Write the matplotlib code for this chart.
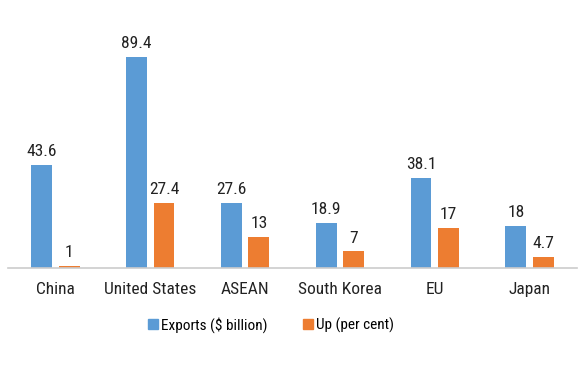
import numpy as np
import matplotlib.pyplot as plt
from matplotlib.patches import Patch
from matplotlib import font_manager

categories = ['China', 'United States', 'ASEAN', 'South Korea', 'EU', 'Japan']
exports = [43.6, 89.4, 27.6, 18.9, 38.1, 18]
up = [1, 27.4, 13, 7, 17, 4.7]
export_labels = ['43.6', '89.4', '27.6', '18.9', '38.1', '18']
up_labels = ['1', '27.4', '13', '7', '17', '4.7']

blue = '#5B9BD5'
orange = '#ED7D31'

# pick a condensed face if one is there
have = {f.name for f in font_manager.fontManager.ttflist}
narrow = [n for n in ['Liberation Sans Narrow', 'Roboto Condensed', 'Open Sans Condensed',
                      'DejaVu Sans Condensed', 'Liberation Sans'] if n in have]
plt.rcParams['font.family'] = narrow[:1] + ['DejaVu Sans']
fs = 12.5
fs_leg = 11

fig = plt.figure(figsize=(5.85, 3.76), dpi=100)
ax = fig.add_axes([8/585, 108/376, 569/585, 236/376])

x = np.arange(len(categories))
w = 0.22
b1 = ax.bar(x - 0.145, exports, w, color=blue)
b2 = ax.bar(x + 0.145, up, w, color=orange)

for rect, lab in zip(b1, export_labels):
    ax.text(rect.get_x() + rect.get_width()/2, rect.get_height() + 2.5, lab,
            ha='center', va='bottom', fontsize=fs, color='#222222')
for rect, lab in zip(b2, up_labels):
    ax.text(rect.get_x() + rect.get_width()/2, rect.get_height() + 2.5, lab,
            ha='center', va='bottom', fontsize=fs, color='#222222')

ax.set_xlim(-0.5, len(categories) - 0.5)
ax.set_ylim(0, 100)
ax.set_xticks(x)
ax.set_xticklabels(categories, fontsize=fs, color='#222222')
ax.tick_params(axis='x', length=0, pad=10)
ax.set_yticks([])
for s in ['top', 'right', 'left']:
    ax.spines[s].set_visible(False)
ax.spines['bottom'].set_color('#cccccc')
ax.spines['bottom'].set_linewidth(1.2)

handles = [Patch(color=blue, label='Exports ($ billion)'),
           Patch(color=orange, label='Up (per cent)')]
fig.legend(handles=handles, loc='center', bbox_to_anchor=(271/585, 1 - 325/376),
           ncol=2, frameon=False, fontsize=fs_leg, handlelength=0.65, handleheight=0.65,
           handletextpad=0.2, columnspacing=2.3)

fig.savefig('out.png', dpi=100)
